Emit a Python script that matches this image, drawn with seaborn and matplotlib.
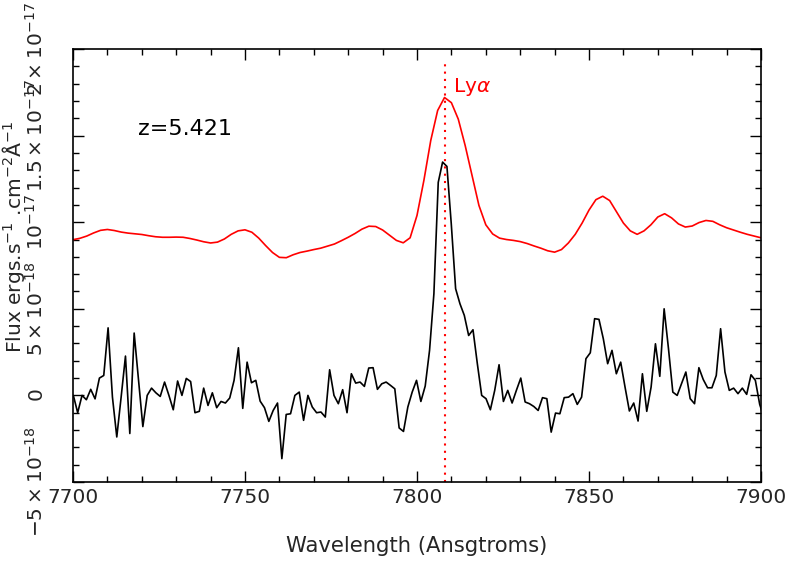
import numpy as np
import pandas as pd
import matplotlib
matplotlib.use("Agg")
import matplotlib.pyplot as plt
from matplotlib.ticker import MultipleLocator, FixedLocator, FixedFormatter
import seaborn as sns

# ---------------- data (flux in units of 1e-18 erg/s/cm2/A) ----------------
WAVE_START = 7700.1
WAVE_STEP = 1.2628
flux_obs = [
    0, -1.0, 0, -0.25, 0.35, -0.2, 1.0, 1.15, 3.9, -0.1,
    -2.4, -0.1, 2.27, -2.2, 3.6, 0.9, -1.8, 0, 0.42, 0.15,
    -0.06, 0.77, 0, -0.83, 0.83, 0, 0.98, 0.8, -1.0, -0.92,
    0.42, -0.58, 0.15, -0.71, -0.35, -0.44, -0.15, 0.87, 2.75, -0.75,
    1.92, 0.73, 0.87, -0.33, -0.71, -1.5, -0.87, -0.44, -3.65, -1.1,
    -1.06, 0, 0.19, -1.44, 0, -0.67, -1.0, -0.96, -1.25, 1.48,
    0, -0.48, 0.33, -1.0, 1.25, 0.71, 0.77, 0.52, 1.58, 1.6,
    0.35, 0.67, 0.77, 0.58, 0.38, -1.88, -2.08, -0.67, 0.19, 0.87,
    -0.35, 0.54, 2.6, 5.87, 12.3, 13.47, 13.22, 9.9, 6.16, 5.29,
    4.62, 3.46, 3.79, 1.83, 0, -0.19, -0.83, 0.29, 1.77, -0.35,
    0.29, -0.44, 0.3, 1.0, -0.38, -0.48, -0.64, -0.87, -0.13, -0.19,
    -2.12, -1.02, -1.06, -0.13, -0.1, 0.1, -0.52, -0.1, 2.12, 2.46,
    4.43, 4.39, 3.27, 1.83, 2.6, 1.25, 1.92, 0.48, -0.9, -0.44,
    -1.48, 1.25, -0.92, 0.48, 2.98, 1.1, 5.0, 2.7, 0.19, 0,
    0.67, 1.35, -0.19, -0.48, 1.6, 0.92, 0.44, 0.44, 1.15, 3.85,
    1.35, 0.29, 0.42, 0.1, 0.42, 0.06, 1.19, 0.87, -0.52, -1.3,
]

# smoothed spectrum (offset copy), sampled every 2 A from 7700 to 7900
SMOOTH_START = 7700
SMOOTH_STEP = 2
flux_smooth = [
    8.99, 9.07, 9.20, 9.38, 9.53, 9.58, 9.52, 9.43, 9.37, 9.33,
    9.29, 9.22, 9.16, 9.13, 9.13, 9.14, 9.13, 9.06, 8.97, 8.87,
    8.80, 8.85, 9.03, 9.30, 9.50, 9.56, 9.42, 9.08, 8.65, 8.25,
    7.97, 7.95, 8.12, 8.25, 8.33, 8.42, 8.50, 8.62, 8.74, 8.93,
    9.13, 9.35, 9.60, 9.77, 9.75, 9.55, 9.25, 8.95, 8.81, 9.10,
    10.39, 12.41, 14.72, 16.45, 17.20, 16.90, 15.95, 14.43, 12.70, 10.97,
    9.85, 9.32, 9.08, 9.00, 8.95, 8.88, 8.77, 8.63, 8.50, 8.35,
    8.27, 8.42, 8.80, 9.30, 9.95, 10.70, 11.30, 11.50, 11.25, 10.60,
    9.95, 9.50, 9.30, 9.50, 9.85, 10.30, 10.49, 10.25, 9.90, 9.72,
    9.78, 9.98, 10.10, 10.05, 9.85, 9.68, 9.55, 9.42, 9.30, 9.20,
    9.10,
]

LYA_WAVE = 7808.0
Z_TEXT = "z=5.421"
UNIT = 1e-18

y_ticks = [-5e-18, 0, 5e-18, 1e-17, 1.5e-17, 2e-17]
y_tick_labels = [r"$-5\times10^{-18}$", r"$0$", r"$5\times10^{-18}$",
                 r"$10^{-17}$", r"$1.5\times10^{-17}$", r"$2\times10^{-17}$"]

# ---------------- plotting ----------------
sns.set_style("ticks")
plt.rcParams["font.family"] = ["DejaVu Sans"]
plt.rcParams["mathtext.fontset"] = "dejavusans"

obs = pd.DataFrame({
    "wave": WAVE_START + WAVE_STEP * np.arange(len(flux_obs)),
    "flux": np.array(flux_obs) * UNIT,
})
smo = pd.DataFrame({
    "wave": SMOOTH_START + SMOOTH_STEP * np.arange(len(flux_smooth)),
    "flux": np.array(flux_smooth) * UNIT,
})

fig = plt.figure(figsize=(7.89, 5.61), dpi=100)
ax = fig.add_axes([73 / 789, 1 - 482 / 561, 688 / 789, 433 / 561])

sns.lineplot(data=smo, x="wave", y="flux", ax=ax, color="#ff0000",
             linewidth=1.2, estimator=None, sort=False)
sns.lineplot(data=obs, x="wave", y="flux", ax=ax, color="black",
             linewidth=1.2, estimator=None, sort=False)

ax.vlines(LYA_WAVE, -5e-18, 1.93e-17, colors="#ff0000",
          linestyles=(0, (1, 2.5)), linewidth=1.5)
ax.text(LYA_WAVE + 2.4, 1.78e-17, r"Ly$\alpha$", color="#ff0000",
        fontsize=14.5, va="center", ha="left")
ax.text(7718.8, 1.54e-17, Z_TEXT, color="black", fontsize=16,
        va="center", ha="left")

ax.set_xlim(7700, 7900)
ax.set_ylim(-5e-18, 2e-17)

ax.xaxis.set_major_locator(MultipleLocator(50))
ax.xaxis.set_minor_locator(MultipleLocator(10))
ax.yaxis.set_major_locator(FixedLocator(y_ticks))
ax.yaxis.set_major_formatter(FixedFormatter(y_tick_labels))
ax.yaxis.set_minor_locator(MultipleLocator(1e-18))

ax.tick_params(which="both", direction="in", top=True, right=True,
               color="black")
ax.tick_params(which="major", length=8, width=1.0)
ax.tick_params(which="minor", length=4.3, width=1.0)
ax.tick_params(axis="x", which="major", labelsize=14.5, pad=4)
ax.tick_params(axis="y", which="major", labelsize=14.5, pad=19)
for lab in ax.get_yticklabels():
    lab.set_rotation(90)
    lab.set_va("center")
    lab.set_ha("right")

for sp in ax.spines.values():
    sp.set_linewidth(1.2)
    sp.set_color("black")

ax.set_xlabel("Wavelength (Ansgtroms)", fontsize=15.2)
ax.set_ylabel(r"Flux ergs.s$^{-1}$ .cm$^{-2}$Å$^{-1}$", fontsize=14.6)
ax.xaxis.set_label_coords(0.5, -0.125)
ax.yaxis.set_label_coords(-0.0675, 0.566)

fig.savefig("out.png", dpi=100)
